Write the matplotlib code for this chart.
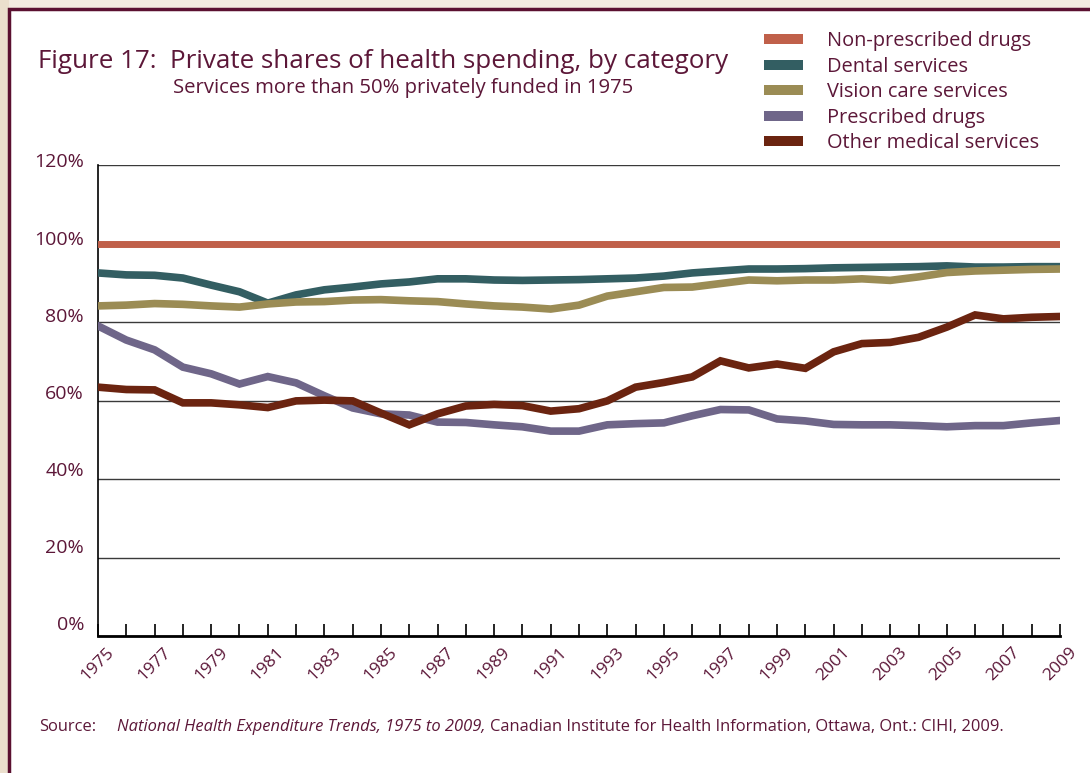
"""Figure 17: private shares of health spending, by category (1975-2009)."""

import matplotlib

matplotlib.use("Agg")

import matplotlib.pyplot as plt
from matplotlib.patches import Rectangle

plt.rcParams["font.family"] = ["Open Sans", "DejaVu Sans"]

INK = "#5c1738"
FRAME = "#5a1030"

years = list(range(1975, 2010))
non_prescribed = [100] * len(years)
dental = [92.5, 92.0, 91.9, 91.2, 89.4, 87.7, 84.8, 86.9, 88.2, 88.9, 89.7, 90.2,
          91.0, 91.0, 90.7, 90.6, 90.7, 90.8, 91.0, 91.2, 91.7, 92.5, 93.0, 93.5,
          93.5, 93.6, 93.8, 93.9, 94.0, 94.1, 94.3, 94.0, 94.0, 94.1, 94.1]
vision = [84.1, 84.3, 84.7, 84.5, 84.1, 83.8, 84.6, 85.1, 85.2, 85.6, 85.7, 85.4,
          85.2, 84.6, 84.1, 83.8, 83.3, 84.3, 86.6, 87.7, 88.8, 88.9, 89.8, 90.7,
          90.5, 90.7, 90.7, 91.0, 90.6, 91.5, 92.6, 93.0, 93.2, 93.4, 93.5]
prescribed = [79.0, 75.4, 72.9, 68.5, 66.8, 64.2, 66.1, 64.5, 61.2, 58.1, 56.6, 56.3,
              54.5, 54.4, 53.8, 53.3, 52.2, 52.2, 53.8, 54.1, 54.3, 56.1, 57.7, 57.6,
              55.3, 54.8, 53.9, 53.8, 53.8, 53.6, 53.3, 53.6, 53.6, 54.3, 54.9]
other_medical = [63.4, 62.8, 62.7, 59.4, 59.4, 58.9, 58.2, 59.9, 60.1, 59.9, 56.8, 53.8,
                 56.6, 58.6, 59.0, 58.7, 57.3, 57.9, 59.9, 63.4, 64.6, 66.0, 70.1, 68.3,
                 69.3, 68.2, 72.4, 74.5, 74.8, 76.1, 78.7, 81.8, 80.8, 81.2, 81.4]

series = [
    ("Non-prescribed drugs", non_prescribed, "#c0604a"),
    ("Dental services", dental, "#335e62"),
    ("Vision care services", vision, "#9b8c55"),
    ("Prescribed drugs", prescribed, "#6f6689"),
    ("Other medical services", other_medical, "#6b2410"),
]

y_ticks = [0, 20, 40, 60, 80, 100, 120]

fig = plt.figure(figsize=(10.9, 7.73), dpi=100, facecolor="#f2eadf")
# beige margin is a little darker on the left
fig.patches.append(Rectangle((0, 0), 9 / 1090, 1, transform=fig.transFigure,
                             facecolor="#ebdfcd", edgecolor="none", zorder=-6))
# white panel with maroon frame (top and left edges visible)
fig.patches.append(Rectangle((9 / 1090, -0.05), 1.2, (773 - 9) / 773 + 0.05,
                             transform=fig.transFigure, facecolor="white",
                             edgecolor=FRAME, lw=2.5, zorder=-5))

ax = fig.add_axes([98 / 1090, 137 / 773, 962 / 1090, 471 / 773])
ax.set_facecolor("white")

for label, vals, color in series:
    lw = 5 if label == "Non-prescribed drugs" else 5.5
    ax.plot(years, vals, color=color, lw=lw, solid_joinstyle="miter", zorder=3)

ax.set_xlim(1975, 2009)
ax.set_ylim(0, 120)
ax.set_yticks(y_ticks)
ax.set_yticklabels([])
ax.yaxis.grid(True, color="#3a3a3a", lw=1)
ax.tick_params(axis="y", length=0)
for v in y_ticks:
    # labels sit a bit above their gridline, closer at the top
    ax.annotate(f"{v}%", xy=(0, v), xycoords=("axes fraction", "data"),
                xytext=(-10, -1 + (3 - v / 15) * 0.72), textcoords="offset points",
                ha="right", va="bottom", fontsize=14, color=INK)

ax.set_xticks(years)
ax.set_xticklabels([str(y) if (y - 1975) % 2 == 0 else "" for y in years],
                   rotation=45, ha="center", fontsize=12.5, color=INK)
ax.tick_params(axis="x", direction="in", length=9, width=1.2, color="black", pad=6)

ax.spines["right"].set_visible(False)
ax.spines["top"].set_visible(False)
ax.spines["left"].set_color("black")
ax.spines["left"].set_linewidth(1.2)
ax.spines["bottom"].set_color("black")
ax.spines["bottom"].set_linewidth(2)

fig.text(38 / 1090, 1 - 62 / 773, "Figure 17:  Private shares of health spending, by category",
         fontsize=18.7, color=INK, va="center", ha="left")
fig.text(173 / 1090, 1 - 88 / 773, "Services more than 50% privately funded in 1975",
         fontsize=14.6, color=INK, va="center", ha="left")

# legend: swatches and labels
for i, (label, _, color) in enumerate(series):
    yc = 1 - (39 + i * 25.5) / 773
    fig.patches.append(Rectangle((764 / 1090, yc - 5 / 773), 39 / 1090, 10 / 773,
                                 transform=fig.transFigure, facecolor=color,
                                 edgecolor="none"))
    fig.text(827 / 1090, yc - 2 / 773, label, fontsize=14.4, color=INK,
             va="center", ha="left")

fig.text(39 / 1090, 1 - 727 / 773, "Source:", fontsize=11.9, color=INK, va="center")
src = fig.text(117 / 1090, 1 - 727 / 773, "National Health Expenditure Trends, 1975 to 2009,",
               fontsize=11.9, color=INK, va="center", style="italic")
fig.canvas.draw()
bb = src.get_window_extent()
fig.text(bb.x1 / 1090 + 4 / 1090, 1 - 727 / 773,
         "Canadian Institute for Health Information, Ottawa, Ont.: CIHI, 2009.",
         fontsize=11.9, color=INK, va="center")

fig.savefig("out.png", dpi=100, facecolor=fig.get_facecolor())
